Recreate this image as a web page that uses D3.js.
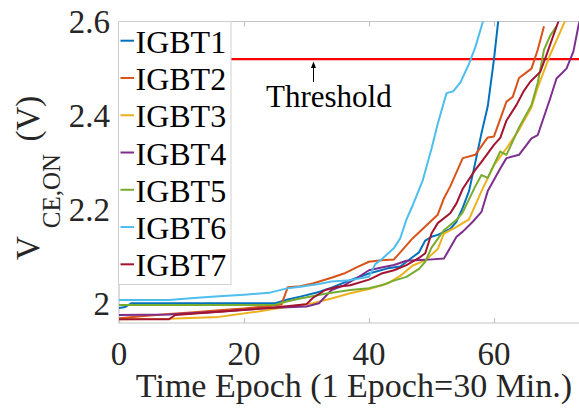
<!DOCTYPE html>
<html lang="en">
  <head>
    <meta charset="utf-8">
    <title>IGBT V_CE,ON vs Time Epoch</title>
    <script type="text/javascript" src="https://cdn.jsdelivr.net/npm/d3@7"></script>
    <style>
      body { margin: 0; background: #fff; }
    </style>
  </head>
  <body>
    <script type="text/javascript">

      var w = 579;
      var h = 408;

      // plot box (right edge runs slightly off the picture)
      // note: can't call these top/left at global scope, window.top is taken
      var plotLeft = 119, plotRight = 587.75, plotTop = 21.5, plotBottom = 323;

      var seriesNames = ["IGBT1", "IGBT2", "IGBT3", "IGBT4", "IGBT5", "IGBT6", "IGBT7"];
      var seriesColors = ["#0072BD", "#D95319", "#EDB120", "#7E2F8E", "#77AC30", "#4DBEEE", "#A2142F"];

      // [epoch, V_CE,ON]
      var igbt1 = [[0,1.992],[1,1.994],[2,2.002],[10,2.002],[20,2.002],[25,2.002],[27,2.010],[29,2.016],
                   [32,2.026],[34,2.035],[37,2.051],[40,2.065],[43,2.076],[45,2.080],[47,2.100],[48,2.110],
                   [49,2.135],[50,2.143],[51,2.147],[53,2.160],[54,2.175],[55,2.205],[56,2.240],[57,2.300],
                   [58,2.363],[59,2.420],[60,2.520],[61,2.640]];
      var igbt2 = [[0,1.970],[4,1.975],[8,1.979],[12,1.983],[16,1.987],[20,1.991],[24,1.996],[26,1.999],
                   [27,2.036],[29,2.038],[31,2.044],[34,2.056],[36,2.065],[38,2.078],[40,2.090],[42,2.093],
                   [44,2.095],[45,2.110],[47,2.140],[49,2.165],[51,2.190],[52,2.225],[53,2.250],[55,2.310],
                   [57,2.317],[59,2.354],[60,2.356],[62,2.430],[63,2.440],[64,2.480],[66,2.500],[67,2.540],
                   [68,2.590]];
      var igbt3 = [[0,1.968],[8,1.969],[16,1.973],[22,1.984],[25,1.990],[29,1.998],[31,2.002],[34,2.012],
                   [37,2.023],[40,2.032],[43,2.044],[45,2.060],[47,2.082],[49,2.093],[51,2.117],[52,2.150],
                   [54,2.164],[56,2.180],[58,2.240],[60,2.295],[62,2.331],[64,2.370],[66,2.418],[67,2.460],
                   [69,2.530],[70,2.560],[72,2.620]];
      var igbt4 = [[0,1.977],[8,1.978],[16,1.984],[24,1.992],[30,1.995],[32,2.002],[34,2.030],[36,2.040],
                   [38,2.055],[40,2.072],[42,2.078],[44,2.083],[46,2.092],[49,2.094],[52,2.097],[54,2.143],
                   [55,2.154],[56.6,2.175],[58,2.196],[59,2.240],[61,2.288],[62,2.310],[64,2.317],[66,2.352],
                   [67,2.359],[69,2.437],[70,2.479],[71.6,2.500],[72.7,2.536],[73.5,2.590],[74,2.620]];
      var igbt5 = [[0,1.998],[10,1.998],[20,1.998],[25,1.999],[27,2.006],[29,2.012],[33,2.022],[37,2.030],
                   [40,2.034],[42,2.040],[44,2.050],[46,2.058],[48,2.075],[49,2.090],[50,2.120],[52,2.157],
                   [54,2.179],[55,2.195],[57,2.250],[58,2.274],[59,2.268],[61,2.324],[62,2.317],[64,2.375],
                   [66,2.423],[67,2.470],[68,2.540],[69,2.570],[70,2.590]];
      var igbt6 = [[0,2.009],[8,2.009],[12,2.013],[16,2.017],[20,2.020],[24,2.024],[27,2.034],[29,2.037],
                   [32,2.043],[34,2.048],[37,2.051],[40,2.058],[41,2.085],[42,2.095],[44,2.119],[45,2.140],
                   [46,2.180],[47,2.210],[48.6,2.263],[50,2.330],[51,2.383],[52.4,2.448],[53.5,2.452],
                   [54.6,2.470],[56,2.510],[57,2.545],[58.3,2.603],[59,2.640]];
      var igbt7 = [[0,1.968],[8,1.968],[9,1.977],[16,1.984],[24,1.992],[28,1.997],[30,2.000],[31,2.013],
                   [33,2.030],[35,2.037],[37,2.040],[40,2.052],[42,2.065],[44,2.072],[46,2.083],[48,2.098],
                   [49,2.108],[50,2.150],[51,2.172],[53,2.193],[54,2.214],[55,2.245],[57,2.285],[58,2.302],
                   [60,2.338],[61,2.353],[62,2.390],[63.6,2.423],[64.7,2.451],[65.8,2.472],[67.4,2.493],
                   [68.4,2.529],[70.3,2.600],[71,2.630]];
      var allSeries = [igbt1, igbt2, igbt3, igbt4, igbt5, igbt6, igbt7];

      var threshold = 2.52;
      var xTicks = [0, 20, 40, 60];
      var yTicks = [2, 2.2, 2.4, 2.6];

      var textColor = "#262626";
      var boxColor = "#c4c4c4";
      var fontFamily = "'Liberation Serif', 'Times New Roman', serif";

      var xScale = d3.scaleLinear()
                     .domain([0, 75])
                     .range([plotLeft, plotRight]);

      var yScale = d3.scaleLinear()
                     .domain([1.96, 2.6])
                     .range([plotBottom, plotTop]);

      var mySvg = d3.select("body")
                    .append("svg")
                    .attr("width", w)
                    .attr("height", h)
                    .style("font-family", fontFamily);

      mySvg.append("clipPath")
           .attr("id", "plotClip")
           .append("rect")
           .attr("x", plotLeft)
           .attr("y", plotTop)
           .attr("width", plotRight - plotLeft)
           .attr("height", plotBottom - plotTop);

      // box lines
      mySvg.append("path")
           .attr("d", "M" + plotRight + "," + plotTop + "H" + plotLeft + "V" + plotBottom + "H" + plotRight)
           .attr("fill", "none")
           .attr("stroke", boxColor)
           .attr("stroke-width", 1.2);

      // inward ticks, bottom + top + left
      var xAxisBottom = d3.axisBottom(xScale).tickValues(xTicks).tickSizeInner(-5).tickSizeOuter(0).tickFormat("");
      var xAxisTop = d3.axisTop(xScale).tickValues(xTicks).tickSizeInner(-5).tickSizeOuter(0).tickFormat("");
      var yAxisLeft = d3.axisLeft(yScale).tickValues(yTicks).tickSizeInner(-5).tickSizeOuter(0).tickFormat("");

      [[xAxisBottom, "translate(0," + plotBottom + ")"],
       [xAxisTop, "translate(0," + plotTop + ")"],
       [yAxisLeft, "translate(" + plotLeft + ",0)"]].forEach(function(a) {
        var g = mySvg.append("g").attr("transform", a[1]).call(a[0]);
        g.select(".domain").remove();
        g.selectAll("line").attr("stroke", boxColor).attr("stroke-width", 1.2);
      });

      // tick labels
      mySvg.selectAll(".xlab")
           .data(xTicks)
           .enter()
           .append("text")
           .attr("class", "xlab")
           .attr("x", function(d) { return xScale(d); })
           .attr("y", 365)
           .attr("text-anchor", "middle")
           .attr("font-size", "33px")
           .attr("fill", textColor)
           .text(function(d) { return d; });

      mySvg.selectAll(".ylab")
           .data(yTicks)
           .enter()
           .append("text")
           .attr("class", "ylab")
           .attr("x", 110)
           .attr("y", function(d) { return yScale(d) + 11; })
           .attr("text-anchor", "end")
           .attr("font-size", "33px")
           .attr("fill", textColor)
           .text(function(d) { return d3.format(".1~f")(d); });

      // axis titles
      mySvg.append("text")
           .attr("x", 354)
           .attr("y", 397)
           .attr("text-anchor", "middle")
           .attr("font-size", "34px")
           .attr("fill", textColor)
           .text("Time Epoch (1 Epoch=30 Min.)");

      var yTitle = mySvg.append("text")
                        .attr("transform", "translate(38.5,260) rotate(-90)")
                        .attr("font-size", "33px")
                        .attr("fill", textColor);
      yTitle.append("tspan").text("V");
      yTitle.append("tspan").attr("dx", 8).attr("dy", 21).attr("font-size", "25px").text("CE,ON");
      yTitle.append("tspan").attr("dx", 4).attr("dy", -21).text(" (V)");

      // data lines
      var line = d3.line()
                   .x(function(d) { return xScale(d[0]); })
                   .y(function(d) { return yScale(d[1]); });

      var linesG = mySvg.append("g").attr("clip-path", "url(#plotClip)");

      linesG.append("line")
            .attr("x1", plotLeft)
            .attr("x2", plotRight)
            .attr("y1", yScale(threshold))
            .attr("y2", yScale(threshold))
            .attr("stroke", "#ff0000")
            .attr("stroke-width", 2.2);

      linesG.selectAll(".series")
            .data(allSeries)
            .enter()
            .append("path")
            .attr("class", "series")
            .attr("d", line)
            .attr("fill", "none")
            .attr("stroke", function(d, i) { return seriesColors[i]; })
            .attr("stroke-width", 2)
            .attr("stroke-linejoin", "round");

      // threshold note
      mySvg.append("text")
           .attr("x", 266)
           .attr("y", 107)
           .attr("font-size", "31px")
           .attr("fill", "#000")
           .text("Threshold");

      mySvg.append("line")
           .attr("x1", 313.5)
           .attr("x2", 313.5)
           .attr("y1", 82)
           .attr("y2", 64)
           .attr("stroke", "#000")
           .attr("stroke-width", 1);

      mySvg.append("path")
           .attr("d", "M313.5,61.5 L311,68 L316,68 Z")
           .attr("fill", "#000");

      // legend
      var legend = mySvg.append("g");

      legend.append("rect")
            .attr("x", 118.5)
            .attr("y", 21.5)
            .attr("width", 112.5)
            .attr("height", 263)
            .attr("fill", "#fff")
            .attr("stroke", "#d0d0d0")
            .attr("stroke-width", 1);

      var items = legend.selectAll(".item")
                        .data(seriesNames)
                        .enter()
                        .append("g")
                        .attr("class", "item")
                        .attr("transform", function(d, i) { return "translate(0," + (40.7 + i * 37.27) + ")"; });

      items.append("line")
           .attr("x1", 120.5)
           .attr("x2", 134)
           .attr("y1", 0)
           .attr("y2", 0)
           .attr("stroke", function(d, i) { return seriesColors[i]; })
           .attr("stroke-width", 2);

      items.append("text")
           .attr("x", 135.5)
           .attr("y", 12)
           .attr("font-size", "32px")
           .attr("fill", "#000")
           .text(function(d) { return d; });

    </script>
  </body>
</html>
